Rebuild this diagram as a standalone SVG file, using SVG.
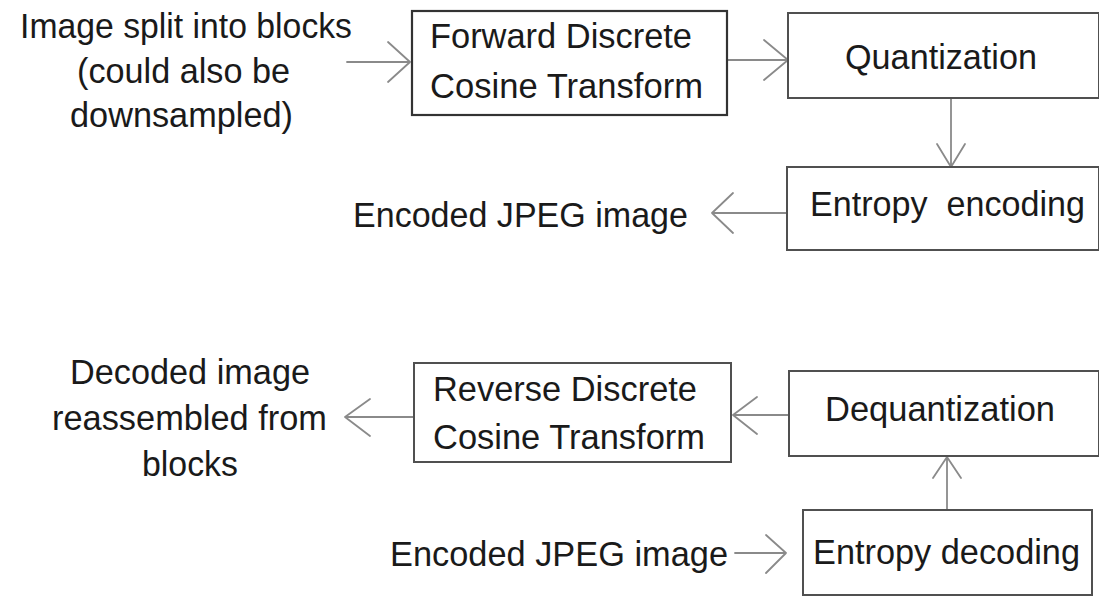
<svg xmlns="http://www.w3.org/2000/svg" width="1099" height="597" viewBox="0 0 1099 597">
<style>
  .box { fill: #ffffff; stroke: #505050; stroke-width: 2; }
  .box2 { fill: #ffffff; stroke: #333333; stroke-width: 2.2; }
  .t { font-family: "Liberation Sans", Arial, sans-serif; font-size: 35px; fill: #1a1a1a; }
  .c { fill: none; stroke: #8a8a8a; stroke-width: 1.8; stroke-linecap: round; stroke-linejoin: round; }
</style>
<rect width="1099" height="597" fill="#ffffff"/>

<g id="connectors">
  <path class="c" d="M347,62 H410 M388,42 L410,62 L388,82"/>
  <path class="c" d="M727,60 H788 M764,40 L788,60 L764,80"/>
  <path class="c" d="M951,98 V167 M937,144 L951,167 L965,144"/>
  <path class="c" d="M787,213 H712 M733,193 L712,213 L733,233"/>
  <path class="c" d="M789,415 H733 M757,397 L733,415 L757,434"/>
  <path class="c" d="M414,417 H345 M370,399 L345,417 L370,436"/>
  <path class="c" d="M947,510 V457 M933,478 L947,457 L961,478"/>
  <path class="c" d="M735,553 H786 M766,535 L786,553 L766,573"/>
</g>

<g id="input-label">
  <text class="t" x="20" y="38" textLength="332" lengthAdjust="spacingAndGlyphs">Image split into blocks</text>
  <text class="t" x="77" y="83" textLength="213" lengthAdjust="spacingAndGlyphs">(could also be</text>
  <text class="t" x="70" y="127" textLength="223" lengthAdjust="spacingAndGlyphs">downsampled)</text>
</g>

<g id="fdct">
  <rect class="box2" x="412" y="11" width="315" height="104"/>
  <text class="t" x="430" y="48" textLength="262" lengthAdjust="spacingAndGlyphs">Forward Discrete</text>
  <text class="t" x="430" y="98" textLength="273" lengthAdjust="spacingAndGlyphs">Cosine Transform</text>
</g>

<g id="quantization">
  <rect class="box" x="788" y="13" width="311" height="85"/>
  <text class="t" x="845" y="69" textLength="192" lengthAdjust="spacingAndGlyphs">Quantization</text>
</g>

<g id="entropy-encoding">
  <rect class="box" x="787" y="167" width="312" height="83"/>
  <text class="t" x="810" y="216" textLength="275" lengthAdjust="spacingAndGlyphs" xml:space="preserve">Entropy  encoding</text>
</g>

<g id="encoded-output">
  <text class="t" x="353" y="227" textLength="335" lengthAdjust="spacingAndGlyphs">Encoded JPEG image</text>
</g>

<g id="decoded-label">
  <text class="t" x="70" y="384" textLength="240" lengthAdjust="spacingAndGlyphs">Decoded image</text>
  <text class="t" x="52" y="430" textLength="275" lengthAdjust="spacingAndGlyphs">reassembled from</text>
  <text class="t" x="142" y="476" textLength="96" lengthAdjust="spacingAndGlyphs">blocks</text>
</g>

<g id="rdct">
  <rect class="box" x="414" y="363" width="317" height="99"/>
  <text class="t" x="433" y="401" textLength="264" lengthAdjust="spacingAndGlyphs">Reverse Discrete</text>
  <text class="t" x="433" y="449" textLength="272" lengthAdjust="spacingAndGlyphs">Cosine Transform</text>
</g>

<g id="dequantization">
  <rect class="box" x="789" y="371" width="310" height="85"/>
  <text class="t" x="825" y="421" textLength="230" lengthAdjust="spacingAndGlyphs">Dequantization</text>
</g>

<g id="entropy-decoding">
  <rect class="box" x="803" y="510" width="289" height="85"/>
  <text class="t" x="813" y="564" textLength="267" lengthAdjust="spacingAndGlyphs">Entropy decoding</text>
</g>

<g id="encoded-input">
  <text class="t" x="390" y="566" textLength="338" lengthAdjust="spacingAndGlyphs">Encoded JPEG image</text>
</g>
</svg>
